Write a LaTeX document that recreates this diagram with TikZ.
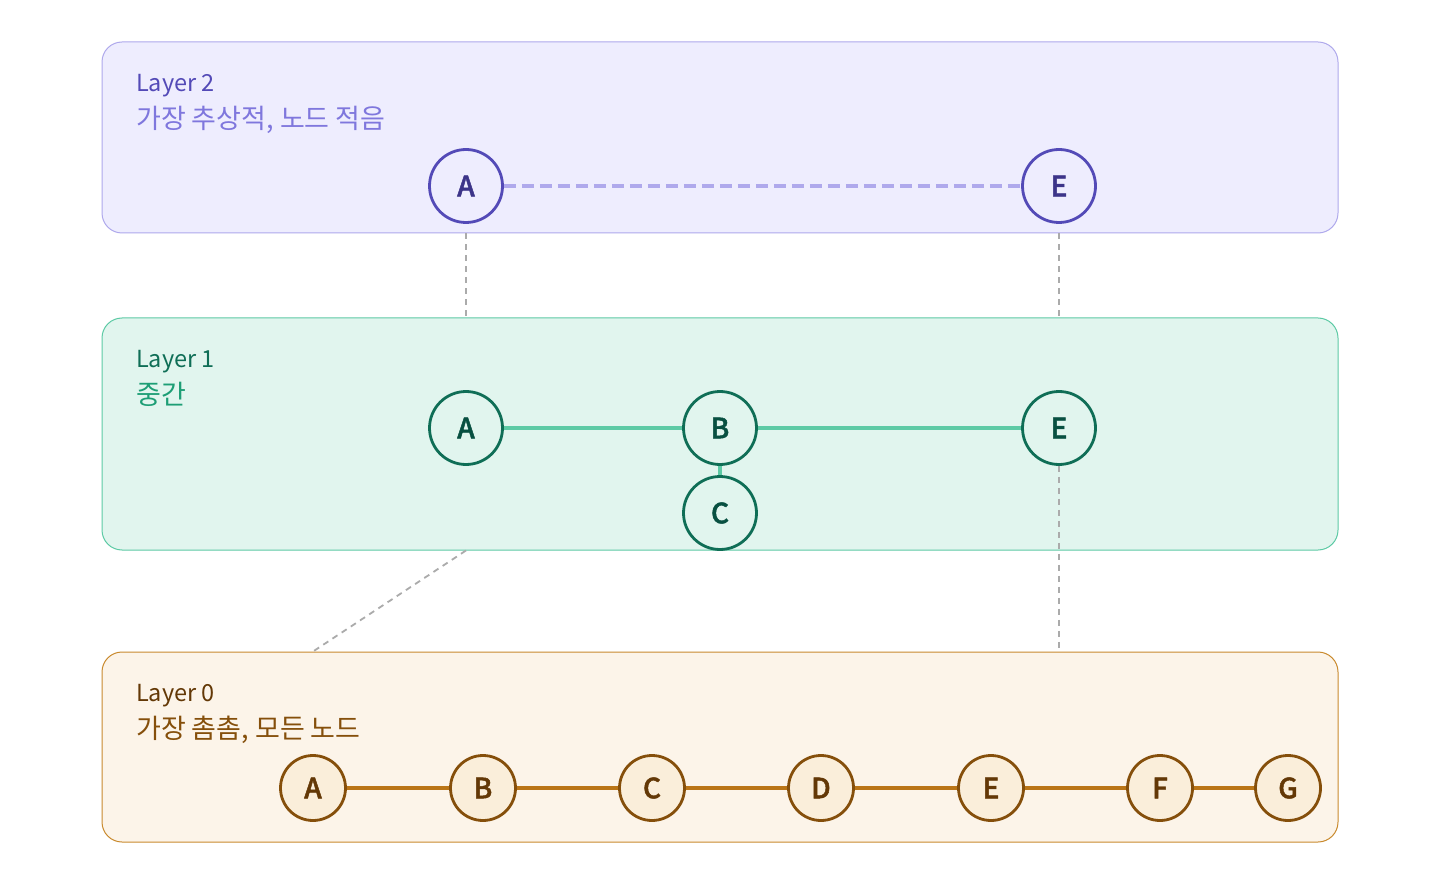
\documentclass[tikz,border=0pt]{standalone}
\usepackage{fontspec}
\setmainfont{Noto Sans CJK KR}
\newfontfamily\vtxfont{Noto Sans CJK KR Medium}[FakeBold=1.6]
\usepackage{xcolor}
\usepackage{tikz}

\definecolor{pfill}{HTML}{EEEDFE}
\definecolor{pline}{HTML}{AFA9EC}
\definecolor{pdark}{HTML}{534AB7}
\definecolor{psub}{HTML}{7F77DD}
\definecolor{ptext}{HTML}{3C3489}
\definecolor{gfill}{HTML}{E1F5EE}
\definecolor{gline}{HTML}{5DCAA5}
\definecolor{gdark}{HTML}{0F6E56}
\definecolor{gsub}{HTML}{1D9E75}
\definecolor{gtext}{HTML}{085041}
\definecolor{ofill}{HTML}{FCF4E9}
\definecolor{oline}{HTML}{C98A2E}
\definecolor{oedge}{HTML}{BA7517}
\definecolor{odark}{HTML}{854F0B}
\definecolor{otext}{HTML}{633806}
\definecolor{onode}{HTML}{FAEEDA}
\definecolor{linkgray}{HTML}{ABABAB}

\begin{document}
\begin{tikzpicture}[x=1pt,y=-1pt,
    layer/.style={rectangle,draw,rounded corners=20pt,line width=1pt,inner sep=0pt,minimum width=1236pt},
    title/.style={anchor=base west,inner sep=0pt,font=\fontsize{23.5}{27}\selectfont},
    subtitle/.style={anchor=base west,inner sep=0pt,font=\fontsize{27}{31}\selectfont},
    vtx/.style={circle,draw,line width=2.8pt,inner sep=0pt,minimum size=73pt,font=\fontsize{28}{32}\selectfont\vtxfont},
    link/.style={linkgray,line width=1.8pt,dash pattern=on 6pt off 5pt}]
    \useasboundingbox[fill=white] (0,0) rectangle (1440,890);

    % layer boxes
    \node[layer,draw=pline,fill=pfill,minimum height=191pt] (L2) at (720,137.5) {};
    \node[layer,draw=gline,fill=gfill,minimum height=232pt] (L1) at (720,434) {};
    \node[layer,draw=oline,fill=ofill,minimum height=190pt] (L0) at (720,747) {};

    \node[title,pdark] (t2) at (136,92) {Layer 2};
    \node[subtitle,psub] (s2) at (136,129) {가장 추상적, 노드 적음};
    \node[title,gdark] (t1) at (136,367) {Layer 1};
    \node[subtitle,gsub] (s1) at (136,404) {중간};
    \node[title,otext] (t0) at (136,701) {Layer 0};
    \node[subtitle,odark] (s0) at (136,738) {가장 촘촘, 모든 노드};

    % layer 2
    \node[vtx,draw=pdark,fill=pfill,text=ptext] (a2) at (466,186) {A};
    \node[vtx,draw=pdark,fill=pfill,text=ptext] (e2) at (1059,186) {E};
    \draw[pline,line width=4pt,dash pattern=on 12pt off 6pt] (a2) -- (e2);

    % layer 1
    \node[vtx,draw=gdark,fill=gfill,text=gtext] (a1) at (466,428) {A};
    \node[vtx,draw=gdark,fill=gfill,text=gtext] (b1) at (720,428) {B};
    \node[vtx,draw=gdark,fill=gfill,text=gtext] (e1) at (1059,428) {E};
    \node[vtx,draw=gdark,fill=gfill,text=gtext] (c1) at (720,513) {C};
    \draw[gline,line width=4pt] (a1) -- (b1) -- (e1);
    \draw[gline,line width=4pt] (b1) -- (c1);

    % layer 0
    \foreach \n/\x in {A/313,B/483,C/652,D/821,E/991,F/1160,G/1288}
        \node[vtx,minimum size=65pt,draw=odark,fill=onode,text=otext] (\n0) at (\x,788) {\n};
    \draw[oedge,line width=4pt] (A0) -- (B0) -- (C0) -- (D0) -- (E0) -- (F0) -- (G0);

    % links between layers
    \draw[link] (L2.south -| a2) -- (L1.north -| a2);
    \draw[link] (L2.south -| e2) -- (L1.north -| e2);
    \draw[link] (L1.south -| a1) -- (L0.north -| A0);
    \draw[link] (e1) -- (L0.north -| e1);
\end{tikzpicture}
\end{document}
